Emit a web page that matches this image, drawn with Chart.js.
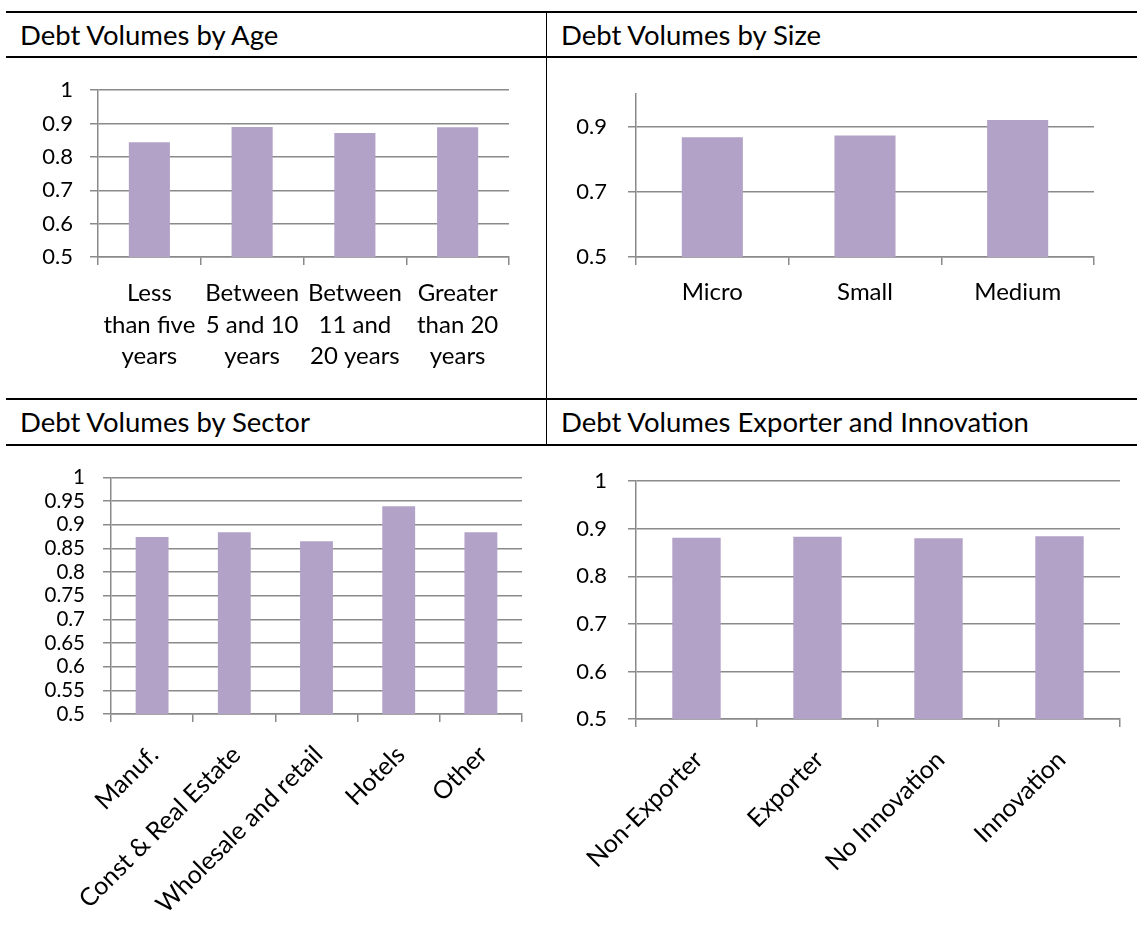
<!DOCTYPE html>
<html><head><meta charset="utf-8">
<script src="https://cdn.jsdelivr.net/npm/chart.js@4"></script>
<style>
html,body{margin:0;padding:0;background:#fff;}
body{width:1137px;height:933px;position:relative;overflow:hidden;font-family:Lato,sans-serif;}
.line{position:absolute;background:#000;}
.title{position:absolute;font-size:27.5px;color:#000;line-height:28px;white-space:nowrap;}
canvas{position:absolute;}
</style></head><body>
<div class="line" style="left:6px;top:11px;width:1131px;height:2px"></div>
<div class="line" style="left:6px;top:56px;width:1131px;height:2px"></div>
<div class="line" style="left:6px;top:398px;width:1131px;height:2px"></div>
<div class="line" style="left:6px;top:444px;width:1131px;height:2px"></div>
<div class="line" style="left:546px;top:11px;width:1px;height:435px"></div>
<div class="title" style="left:20px;top:21px">Debt Volumes by Age</div>
<div class="title" style="left:561px;top:21px">Debt Volumes by Size</div>
<div class="title" style="left:20px;top:408px">Debt Volumes by Sector</div>
<div class="title" style="left:561px;top:408px">Debt Volumes Exporter and Innovation</div>
<canvas id="c1" width="547" height="337" style="left:0px;top:60px;width:547px;height:337px"></canvas>
<canvas id="c2" width="590" height="337" style="left:547px;top:60px;width:590px;height:337px"></canvas>
<canvas id="c3" width="547" height="486" style="left:0px;top:447px;width:547px;height:486px"></canvas>
<canvas id="c4" width="590" height="486" style="left:547px;top:447px;width:590px;height:486px"></canvas>
<script>
// ---- data ----
const ageLabels = [["Less","than five","years"],["Between","5 and 10","years"],["Between","11 and","20 years"],["Greater","than 20","years"]];
const ageValues = [0.844, 0.890, 0.872, 0.889];
const ageTicks = [0.5, 0.6, 0.7, 0.8, 0.9, 1];

const sizeLabels = ["Micro","Small","Medium"];
const sizeValues = [0.868, 0.873, 0.921];
const sizeTicks = [0.5, 0.7, 0.9];

const sectorLabels = ["Manuf.","Const & Real Estate","Wholesale and retail","Hotels","Other"];
const sectorValues = [0.874, 0.884, 0.865, 0.939, 0.884];
const sectorTicks = [0.5, 0.55, 0.6, 0.65, 0.7, 0.75, 0.8, 0.85, 0.9, 0.95, 1];

const exportLabels = ["Non-Exporter","Exporter","No Innovation","Innovation"];
const exportValues = [0.881, 0.883, 0.880, 0.884];
const exportTicks = [0.5, 0.6, 0.7, 0.8, 0.9, 1];

// ---- styling ----
const BAR = '#b3a2c7';
const GRID = '#8a8a8a';
Chart.defaults.font.family = 'Lato, sans-serif';
Chart.defaults.color = '#000';

function makeChart(id, labels, values, ticks, c) {
  return new Chart(document.getElementById(id), {
    type: 'bar',
    data: { labels: labels, datasets: [{ data: values, backgroundColor: BAR, barPercentage: 0.4, categoryPercentage: 1 }] },
    options: {
      responsive: false, animation: false, devicePixelRatio: 1,
      layout: { padding: { left: 0, top: c.padTop, right: c.padRight, bottom: 0 } },
      plugins: { legend: { display: false }, tooltip: { enabled: false } },
      scales: {
        x: {
          grid: { drawOnChartArea: false, drawTicks: true, tickLength: 8, color: GRID, lineWidth: 1.5, offset: true },
          border: { color: GRID, width: 1.5 },
          ticks: { font: { size: c.xFont, lineHeight: c.xLH }, color: '#000', padding: c.xPad,
                   maxRotation: c.rot, minRotation: c.rot, autoSkip: false, labelOffset: c.xOff },
          afterFit(s) { s.height = c.xHeight; }
        },
        y: {
          min: 0.5, max: 1,
          grid: { color: GRID, lineWidth: 1.5, tickLength: 8 },
          border: { color: GRID, width: 1.5 },
          ticks: { font: { size: c.yFont }, color: '#000', padding: c.yPad, autoSkip: false,
                   callback: v => String(v) },
          afterBuildTicks(s) { s.ticks = ticks.map(v => ({ value: v })); },
          afterFit(s) { s.width = c.yWidth; }
        }
      }
    }
  });
}

makeChart('c1', ageLabels, ageValues, ageTicks,
  { padTop: 29, padRight: 38, xHeight: 140, yWidth: 98, xFont: 24, xLH: 1.31, xPad: 13, rot: 0, xOff: 0, yFont: 22, yPad: 17 });
makeChart('c2', sizeLabels, sizeValues, sizeTicks,
  { padTop: 29, padRight: 43, xHeight: 140, yWidth: 89, xFont: 24, xLH: 1.31, xPad: 12, rot: 0, xOff: 0, yFont: 22, yPad: 21 });
makeChart('c3', sectorLabels, sectorValues, sectorTicks,
  { padTop: 29, padRight: 25, xHeight: 219, yWidth: 111, xFont: 25, xLH: 1.2, xPad: 18, rot: 45, xOff: 2, yFont: 20.5, yPad: 18 });
makeChart('c4', exportLabels, exportValues, exportTicks,
  { padTop: 29, padRight: 17, xHeight: 214, yWidth: 89, xFont: 25, xLH: 1.2, xPad: 18, rot: 45, xOff: 2, yFont: 22, yPad: 21 });
</script>
</body></html>
